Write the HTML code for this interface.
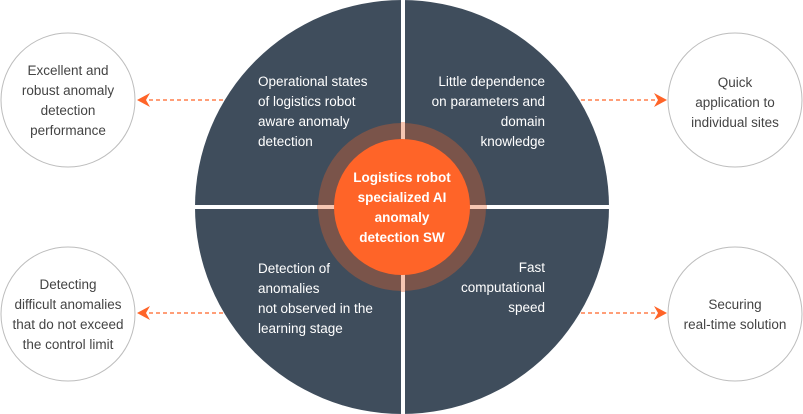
<!DOCTYPE html>
<html><head><meta charset="utf-8"><style>
html,body{margin:0;padding:0;background:#fff;}
svg{display:block;}
text{font-family:"Liberation Sans",sans-serif;font-size:13.5px;}
.w{fill:#fff;}
.g{fill:#444;}
</style></head><body>
<svg width="803" height="414" viewBox="0 0 803 414" xmlns="http://www.w3.org/2000/svg">
<circle cx="402" cy="207" r="207" fill="#3f4d5c"/>
<rect x="190" y="205" width="425" height="4" fill="#fff"/>
<rect x="401" y="0" width="4" height="414" fill="#fff"/>
<circle cx="402" cy="207" r="84" fill="#7a544a"/>
<rect x="317" y="205" width="170" height="4" fill="#f6c6b2"/>
<rect x="401" y="122" width="4" height="170" fill="#f6c6b2"/>
<circle cx="402" cy="207" r="68" fill="#ff6428"/>
<g font-weight="bold" text-anchor="middle" class="w">
<text x="402" y="182" class="w">Logistics robot</text>
<text x="402" y="202" class="w">specialized AI</text>
<text x="402" y="222" class="w">anomaly</text>
<text x="402" y="242" class="w">detection SW</text>
</g>
<g class="w">
<text x="258" y="86" class="w">Operational states</text>
<text x="258" y="106" class="w">of logistics robot</text>
<text x="258" y="126" class="w">aware anomaly</text>
<text x="258" y="146" class="w">detection</text>
<text x="258" y="273" class="w">Detection of</text>
<text x="258" y="293" class="w">anomalies</text>
<text x="258" y="313" class="w">not observed in the</text>
<text x="258" y="333" class="w">learning stage</text>
</g>
<g text-anchor="end">
<text x="545" y="86" class="w">Little dependence</text>
<text x="545" y="106" class="w">on parameters and</text>
<text x="545" y="126" class="w">domain</text>
<text x="545" y="146" class="w">knowledge</text>
<text x="545" y="272" class="w">Fast</text>
<text x="545" y="292" class="w">computational</text>
<text x="545" y="312" class="w">speed</text>
</g>
<g fill="#fff" stroke="#bdbdbd" stroke-width="1">
<circle cx="68" cy="100" r="67"/>
<circle cx="68" cy="314" r="67"/>
<circle cx="735" cy="100" r="67"/>
<circle cx="735" cy="314" r="67"/>
</g>
<g stroke="#ff6428" stroke-width="1.2" stroke-dasharray="4,3">
<line x1="223" y1="100" x2="148" y2="100"/>
<line x1="223" y1="313" x2="148" y2="313"/>
<line x1="581" y1="100" x2="656" y2="100"/>
<line x1="581" y1="313" x2="656" y2="313"/>
</g>
<g fill="#ff6428">
<polygon points="137,100 150,93 146,100 150,107"/>
<polygon points="137,313 150,306 146,313 150,320"/>
<polygon points="667,100 654,93 658,100 654,107"/>
<polygon points="667,313 654,306 658,313 654,320"/>
</g>
<g text-anchor="middle">
<text x="68" y="75" class="g">Excellent and</text>
<text x="68" y="95" class="g">robust anomaly</text>
<text x="68" y="115" class="g">detection</text>
<text x="68" y="135" class="g">performance</text>
<text x="68" y="289" class="g">Detecting</text>
<text x="68" y="309" class="g">difficult anomalies</text>
<text x="68" y="329" class="g">that do not exceed</text>
<text x="68" y="349" class="g">the control limit</text>
<text x="735" y="87" class="g">Quick</text>
<text x="735" y="107" class="g">application to</text>
<text x="735" y="127" class="g">individual sites</text>
<text x="735" y="309" class="g">Securing</text>
<text x="735" y="329" class="g">real-time solution</text>
</g>
</svg>
</body></html>
